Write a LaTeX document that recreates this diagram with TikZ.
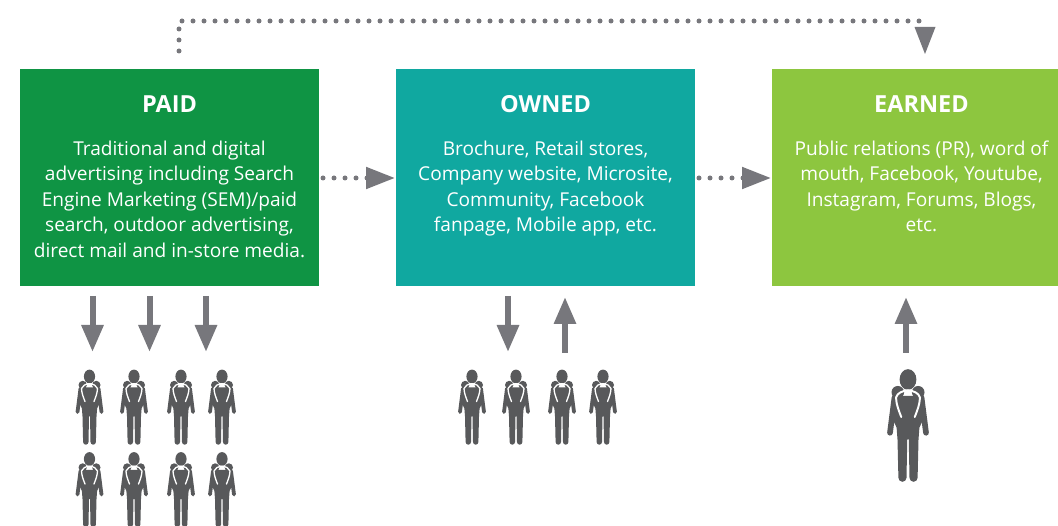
\documentclass[tikz,border=0pt]{standalone}
\usepackage{fontspec}
\setmainfont{Open Sans}
\usetikzlibrary{arrows.meta}
\definecolor{paidc}{HTML}{0F9444}
\definecolor{ownedc}{HTML}{10A8A0}
\definecolor{earnedc}{HTML}{8DC63F}
\definecolor{arrowc}{HTML}{77777C}
\definecolor{personc}{HTML}{58595B}
\tikzset{
  box/.style={fill=#1,draw=none,minimum width=299pt,minimum height=217pt,inner sep=0pt,anchor=north west},
  titletext/.style={text=white,font=\fontsize{23.5}{28}\bfseries\selectfont,inner sep=0pt,anchor=center},
  bodytext/.style={text=white,font=\fontsize{19.1}{25.5}\selectfont,align=center,inner sep=0pt,anchor=north},
  dotline/.style={draw=arrowc,line width=5pt,line cap=round,dash pattern=on 0pt off 11pt},
  dothead/.style={-{Triangle[length=29pt,width=21pt,color=arrowc]}},
  solidarrow/.style={draw=arrowc,line width=6pt,-{Triangle[length=27pt,width=21pt,color=arrowc]}},
  pics/person/.style={code={
    \begin{scope}[scale=#1]
      \fill[personc] (0,7) ellipse (5.6 and 6.9);
      \fill[personc] (-6.8,15.5) circle (4.2) (6.8,15.5) circle (4.2);
      \fill[personc] (-9.5,18) -- (9.5,18) -- (11,32) -- (7.6,39) -- (7,47) -- (6.4,72.5)
        arc[start angle=0,end angle=180,x radius=2.7,y radius=2.7]
        -- (0.5,47) -- (-0.5,47) -- (-1,72.5)
        arc[start angle=0,end angle=180,x radius=2.7,y radius=2.7]
        -- (-7,47) -- (-7.6,39) -- (-11,32) -- cycle;
      \draw[personc,line width=#1*3.8pt,line cap=round] (-9,19) -- (-12,42.5);
      \draw[personc,line width=#1*3.8pt,line cap=round] (9,19) -- (12,42.5);
      \draw[white,line width=#1*1.3pt,line cap=round] (0,14.2) .. controls (-4,14.6) and (-7,16) .. (-8,19) .. controls (-7.8,24) and (-6,28) .. (-4.5,32);
      \draw[white,line width=#1*1.3pt,line cap=round] (0,14.2) .. controls (4,14.6) and (7,16) .. (8,19) .. controls (7.8,24) and (6,28) .. (4.5,32);
    \end{scope}
  }}
}
\begin{document}
\begin{tikzpicture}[x=1pt,y=-1pt]
\useasboundingbox (0,0) rectangle (1058,526);
\clip (0,0) rectangle (1058,526);
\node[box=paidc] (paid) at (20,69) {};
\node[box=ownedc] (owned) at (396,69) {};
\node[box=earnedc] (earned) at (772,69) {};
\node[titletext] (t1) at (169.5,104) {PAID};
\node[titletext] (t2) at (545.5,104) {OWNED};
\node[titletext] (t3) at (921.5,104) {EARNED};
\node[bodytext] (b1) at (169.5,140.5) {Traditional and digital\\advertising including Search\\Engine Marketing (SEM)/paid\\search, outdoor advertising,\\direct mail and in-store media.};
\node[bodytext] (b2) at (545.5,140.5) {Brochure, Retail stores,\\Company website, Microsite,\\Community, Facebook\\fanpage, Mobile app, etc.};
\node[bodytext] (b3) at (921.5,140.5) {Public relations (PR), word of\\mouth, Facebook, Youtube,\\Instagram, Forums, Blogs,\\etc.};
% dotted connectors
\coordinate (d1s) at (323,178); \coordinate (d1e) at (395,178);
\coordinate (d2s) at (699,178); \coordinate (d2e) at (771,178);
\coordinate (d3s) at (179,51); \coordinate (d3c) at (179,21); \coordinate (d3d) at (926,21);
\coordinate (d3e) at (925,54);
\draw[dotline,dothead] (d1s) -- (d1e);
\draw[dotline,dothead] (d2s) -- (d2e);
\draw[dotline] (d3s) -- (d3c) -- (d3d);
\fill[arrowc] (914.5,27) -- (935.5,27) -- (d3e) -- cycle;
% solid arrows
\foreach \n/\x in {a/92.5,b/149.5,c/206}{
  \coordinate (\n s) at (\x,296); \coordinate (\n e) at (\x,352);
  \draw[solidarrow] (\n s) -- (\n e);
}
\coordinate (ds) at (508,296); \coordinate (de) at (508,352);
\draw[solidarrow] (ds) -- (de);
\coordinate (es) at (565,353); \coordinate (ee) at (565,297);
\draw[solidarrow] (es) -- (ee);
\coordinate (fs) at (906,353); \coordinate (fe) at (906,297);
\draw[solidarrow] (fs) -- (fe);
% people
\foreach \x in {89.5,134,181,222}{
  \pic at (\x,369.5) {person=1};
  \pic at (\x,452) {person=1};
}
\foreach \x in {472,516,562,603}{
  \pic at (\x,369.5) {person=1};
}
\pic at (908,369) {person=1.5};
\end{tikzpicture}
\end{document}
